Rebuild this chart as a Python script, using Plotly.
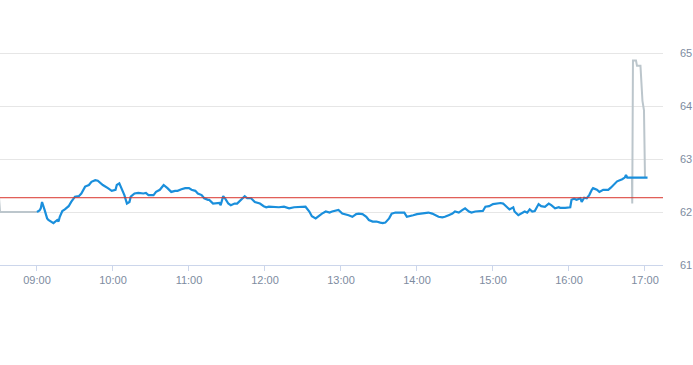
import plotly.graph_objects as go
import pandas as pd

DAY = "2024-01-02 "

# Regular session (blue): minutes after 09:00 and price
session_minutes = [0, 2, 3, 4, 6, 8, 9, 11, 13, 16, 17, 18, 20, 22, 25, 27, 30, 33, 35, 38, 41, 43, 46, 48, 50, 52, 56, 59,
                   62, 63, 65, 67, 69, 71, 73, 74, 77, 80, 84, 86, 88, 92, 94, 97, 100, 103, 106, 109, 111, 114, 117, 120,
                   122, 125, 127, 130, 132, 135, 136, 139, 141, 144, 145, 147, 149, 151, 153, 156, 158, 161, 164, 166, 169,
                   172, 176, 179, 181, 183, 187, 191, 195, 199, 203, 208, 212, 215, 217, 220, 223, 225, 228, 231, 233, 236,
                   238, 241, 244, 246, 249, 252, 254, 257, 260, 262, 265, 268, 271, 273, 275, 278, 280, 283, 287, 290, 292,
                   295, 297, 300, 303, 307, 309, 312, 314, 317, 320, 322, 325, 328, 330, 333, 336, 338, 341, 343, 346, 348,
                   352, 354, 357, 360, 363, 366, 368, 371, 373, 376, 377, 380, 383, 385, 387, 389, 391, 393, 396, 398, 401,
                   404, 406, 409, 412, 413, 417, 421, 422, 424, 426, 429, 430, 432, 434, 436, 438, 439, 442, 444, 447, 451,
                   453, 456, 458, 462, 464, 465, 466, 470, 482]
session_prices = [62.00, 62.03, 62.07, 62.19, 62.04, 61.88, 61.85, 61.82, 61.79, 61.85, 61.82, 61.91, 62.02, 62.05, 62.11,
                  62.19, 62.29, 62.30, 62.35, 62.48, 62.51, 62.57, 62.60, 62.59, 62.54, 62.51, 62.45, 62.40,
                  62.42, 62.51, 62.54, 62.42, 62.32, 62.16, 62.19, 62.29, 62.35, 62.36, 62.35, 62.36, 62.32, 62.32, 62.38,
                  62.42, 62.51, 62.45, 62.38, 62.40, 62.40, 62.43, 62.45, 62.45,
                  62.42, 62.40, 62.35, 62.32, 62.26, 62.23, 62.23, 62.16, 62.16, 62.17, 62.13, 62.30, 62.24, 62.16, 62.13,
                  62.16, 62.16, 62.23, 62.30, 62.26, 62.26,
                  62.19, 62.16, 62.11, 62.09, 62.10, 62.09, 62.09, 62.10, 62.07, 62.09, 62.09, 62.10, 62.01, 61.92, 61.88,
                  61.94, 61.97, 62.01, 61.99, 62.01, 62.02,
                  62.04, 61.97, 61.96, 61.94, 61.91, 61.96, 61.97, 61.96, 61.91, 61.85, 61.82, 61.82, 61.80, 61.79, 61.80,
                  61.88, 61.97, 61.99, 61.99, 61.99, 61.91,
                  61.92, 61.94, 61.96, 61.97, 61.97, 61.99, 61.97, 61.94, 61.91, 61.90, 61.91, 61.94, 61.97, 62.01, 61.99,
                  62.04, 62.07, 62.01, 61.99, 62.01, 62.01,
                  62.02, 62.10, 62.11, 62.15, 62.16, 62.17, 62.16, 62.09, 62.05, 62.09, 62.01, 61.94, 61.99, 62.01, 61.99,
                  62.05, 62.01, 62.02, 62.15, 62.11, 62.10,
                  62.16, 62.13, 62.07, 62.09, 62.08, 62.08, 62.09, 62.23, 62.25, 62.23, 62.26, 62.19, 62.27, 62.26, 62.32,
                  62.42, 62.45, 62.42, 62.38, 62.42, 62.42,
                  62.46, 62.54, 62.58, 62.62, 62.65, 62.70, 62.65, 62.65, 62.65]

# Pre-market (grey)
pre_times = ["08:30:00", "08:30:50", "09:00:00"]
pre_prices = [62.27, 62.00, 62.00]

# After-hours (grey)
post_times = ["16:49:42", "16:49:56", "16:50:30", "16:52:54", "16:53:41", "16:56:26", "16:58:00", "16:59:12", "17:00:00"]
post_prices = [62.65, 62.16, 64.86, 64.86, 64.76, 64.76, 64.10, 63.92, 62.66]

prev_close = 62.27

tick_times = ["09:00", "10:00", "11:00", "12:00", "13:00", "14:00", "15:00", "16:00", "17:00"]
y_ticks = [61, 62, 63, 64, 65]

base = pd.Timestamp(DAY + "09:00:00")
session_x = [base + pd.Timedelta(minutes=m) for m in session_minutes]
pre_x = pd.to_datetime([DAY + t for t in pre_times])
post_x = pd.to_datetime([DAY + t for t in post_times])

fig = go.Figure()
fig.add_trace(go.Scatter(x=pre_x, y=pre_prices, mode="lines",
                         line=dict(color="#bcc6cc", width=2), hoverinfo="skip"))
fig.add_trace(go.Scatter(x=post_x, y=post_prices, mode="lines",
                         line=dict(color="#bcc6cc", width=2), hoverinfo="skip"))
fig.add_trace(go.Scatter(x=session_x, y=session_prices, mode="lines",
                         line=dict(color="#1a8fdc", width=2.2)))
fig.add_hline(y=prev_close, line=dict(color="#d9322b", width=1))

fig.update_layout(
    width=693, height=365,
    margin=dict(l=0, r=30, t=51, b=100),
    paper_bgcolor="white", plot_bgcolor="white",
    showlegend=False,
    font=dict(family="Liberation Sans, Arial, sans-serif", size=11, color="#8391a5"),
    xaxis=dict(
        type="date",
        range=[DAY + "08:30:48", DAY + "17:14:13"],
        tickvals=pd.to_datetime([DAY + t for t in tick_times]),
        ticktext=tick_times,
        showgrid=False, zeroline=False,
        showline=True, linecolor="#ccd6eb", linewidth=1,
        ticks="outside", ticklen=5, tickcolor="#ccd6eb",
        tickfont=dict(size=11, color="#7d8ba0"),
    ),
    yaxis=dict(
        side="right",
        range=[61, 65.04],
        tickvals=y_ticks,
        showgrid=True, gridcolor="#e6e6e6", gridwidth=1,
        zeroline=False, showline=False,
        ticks="", ticklabelstandoff=16,
        tickfont=dict(size=11, color="#7d8ba0"),
    ),
)

fig.write_html("out.html", config={"displayModeBar": False},
               post_script="document.body.style.margin='0px';")
